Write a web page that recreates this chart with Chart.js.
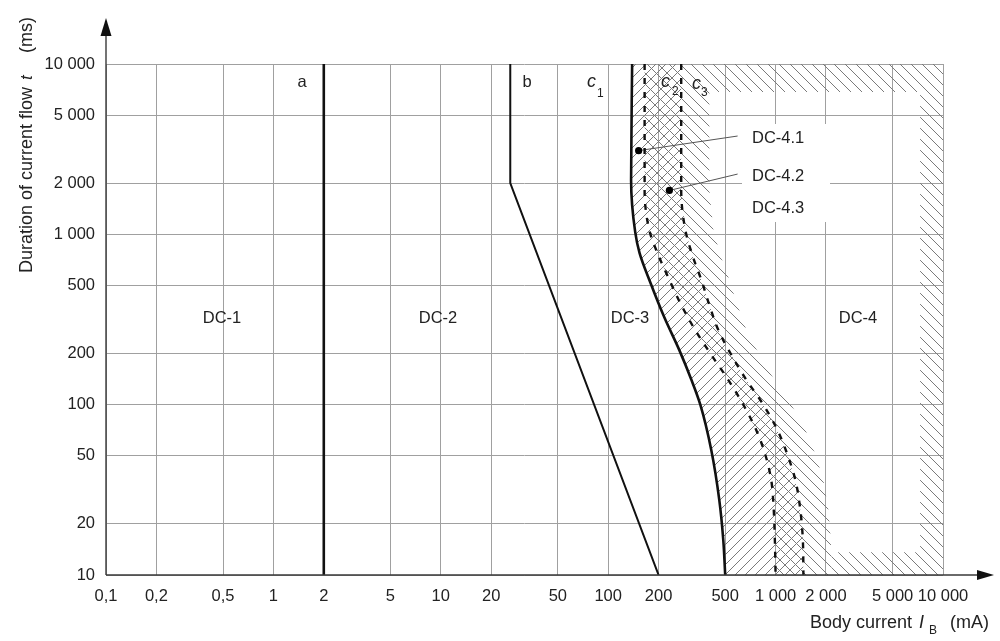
<!DOCTYPE html>
<html><head><meta charset="utf-8">
<script src="https://cdn.jsdelivr.net/npm/chart.js@4.4.1/dist/chart.umd.min.js"></script>
<style>html,body{margin:0;padding:0;background:#fff;}canvas{display:block;}</style>
</head><body>
<canvas id="c" width="1000" height="641"></canvas>
<script>
// ---------------- data ----------------
const xTickValues = [0.1,0.2,0.5,1,2,5,10,20,50,100,200,500,1000,2000,5000,10000];
const xTickLabels = ['0,1','0,2','0,5','1','2','5','10','20','50','100','200','500','1 000','2 000','5 000','10 000'];
const yTickValues = [10,20,50,100,200,500,1000,2000,5000,10000];
const yTickLabels = ['10','20','50','100','200','500','1 000','2 000','5 000','10 000'];

// curve a (mA / ms)
const curveA_mA = [2, 2];
const curveA_ms = [10000, 10];
// curve b
const curveB_mA = [26, 26, 200];
const curveB_ms = [10000, 2000, 10];
// curve c1
const curveC1_mA = [139,137,145,154,179,216,266,314,355,413,461,487,500];
const curveC1_ms = [10000,2080,1030,776,518,327,209,140,100,54,27.5,16,10];
// curve c2 (dashed)
const curveC2_mA = [165,165,176,199,232,273,331,413,521,641,766,867,942,975,990,1000];
const curveC2_ms = [10000,1820,1060,757,540,385,274,196,140,100,71,51,36,24,16,10];
// curve c3 (dashed)
const curveC3_mA = [273,273,289,318,360,402,455,544,668,845,1025,1176,1313,1406,1455,1466];
const curveC3_ms = [10000,1820,1060,757,540,385,274,196,140,100,71,51,36,24,16,10];
// outer edge of the "\" hatched band beyond c3
const hatchEdge_mA = [402,402,425,467,529,591,669,800,982,1242,1507,1729,1930,2067,2139,2155];
const hatchEdge_ms = [10000,1820,1060,757,540,385,274,196,140,100,71,51,36,24,16,10];
// hatched frame of zone DC-4 (top, right, bottom bands)
const frame_mA = [402,10000,10000,2155,2155,7300,7300,402];
const frame_ms = [10000,10000,10,10,13.6,13.6,6850,6850];
// marked points DC-4.1 / DC-4.2
const dots_mA = [152, 232];
const dots_ms = [3100, 1810];
// leader lines (label end -> point)
const leader1_mA = [593, 152];
const leader1_ms = [3777, 3100];
const leader2_mA = [593, 232];
const leader2_ms = [2259, 1810];

// ---------------- helpers ----------------
const pts = (xs, ys) => xs.map((x, i) => ({x: x, y: ys[i]}));
const rev = a => a.slice().reverse();
const FONT = '"Liberation Sans", Arial, Helvetica, sans-serif';
const canvas = document.getElementById('c');
const mainCtx = canvas.getContext('2d');

function makeHatch(dir, s, color, w) {
  const t = document.createElement('canvas');
  t.width = s; t.height = s;
  const g = t.getContext('2d');
  g.strokeStyle = color; g.lineWidth = w;
  g.beginPath();
  for (let k = -s; k <= s; k += s) {
    if (dir === 'back') { g.moveTo(0, k); g.lineTo(s, k + s); }
    else { g.moveTo(0, s + k); g.lineTo(s, k); }
  }
  g.stroke();
  return mainCtx.createPattern(t, 'repeat');
}
const hatchBack = makeHatch('back', 11, '#7a7a7a', 1);
const hatchFwd = makeHatch('fwd', 10, '#7a7a7a', 1);

const lineDs = (data, opts) => Object.assign({
  data: data, borderColor: '#111', borderWidth: 2.5, pointRadius: 0, fill: false, tension: 0, order: 1
}, opts);
const curveDs = (data, opts) => lineDs(data, Object.assign({
  indexAxis: 'y', cubicInterpolationMode: 'monotone'
}, opts));
const shapeDs = (data, pattern) => ({
  data: data, borderWidth: 0, borderColor: 'rgba(0,0,0,0)', backgroundColor: pattern,
  pointRadius: 0, fill: 'shape', tension: 0, order: 10
});

const datasets = [
  lineDs(pts(curveA_mA, curveA_ms), {borderWidth: 2.6}),
  lineDs(pts(curveB_mA, curveB_ms), {borderWidth: 2}),
  curveDs(pts(curveC1_mA, curveC1_ms), {borderWidth: 2.6}),
  curveDs(pts(curveC2_mA, curveC2_ms), {borderWidth: 2.4, borderDash: [6, 8]}),
  curveDs(pts(curveC3_mA, curveC3_ms), {borderWidth: 2.4, borderDash: [6, 8]}),
  lineDs(pts(leader1_mA, leader1_ms), {borderWidth: 1, borderColor: '#555'}),
  lineDs(pts(leader2_mA, leader2_ms), {borderWidth: 1, borderColor: '#555'}),
  {type: 'scatter', data: pts(dots_mA, dots_ms), pointRadius: 3.6, pointBackgroundColor: '#000',
   pointBorderWidth: 0, showLine: false, order: 0},
  shapeDs(pts(curveC1_mA, curveC1_ms).concat(rev(pts(curveC3_mA, curveC3_ms))), hatchFwd),
  shapeDs(pts(curveC2_mA, curveC2_ms).concat(rev(pts(hatchEdge_mA, hatchEdge_ms))), hatchBack),
  shapeDs(pts(frame_mA, frame_ms), hatchBack)
];

function txt(ctx, s, x, y, font, align) {
  ctx.font = font; ctx.textAlign = align || 'left'; ctx.fillText(s, x, y);
}

const overlay = {
  id: 'overlay',
  beforeDatasetsDraw(chart) {
    const ctx = chart.ctx;
    ctx.save(); ctx.fillStyle = '#fff';
    ctx.fillRect(742, 124, 88, 98);
    ctx.restore();
  },
  afterDraw(chart) {
    const ctx = chart.ctx;
    const a = chart.chartArea;
    ctx.save();
    // axes with arrows
    ctx.strokeStyle = '#3a3a3a'; ctx.lineWidth = 1.4; ctx.fillStyle = '#111';
    ctx.beginPath();
    ctx.moveTo(a.left, a.bottom); ctx.lineTo(a.left, 30);
    ctx.moveTo(a.left, a.bottom); ctx.lineTo(982, a.bottom);
    ctx.stroke();
    ctx.beginPath();
    ctx.moveTo(a.left, 18); ctx.lineTo(a.left - 5.5, 36); ctx.lineTo(a.left + 5.5, 36); ctx.closePath(); ctx.fill();
    ctx.beginPath();
    ctx.moveTo(994, a.bottom); ctx.lineTo(977, a.bottom - 5); ctx.lineTo(977, a.bottom + 5); ctx.closePath(); ctx.fill();

    ctx.fillStyle = '#222'; ctx.textBaseline = 'alphabetic';
    const f = '16.5px ' + FONT;
    const fi = 'italic 18px ' + FONT;
    const fs = '12px ' + FONT;
    // curve labels
    txt(ctx, 'a', 302, 87, f, 'center');
    txt(ctx, 'b', 527, 87, f, 'center');
    txt(ctx, 'c', 587, 87, fi); txt(ctx, '1', 597, 97, fs);
    txt(ctx, 'c', 661, 87, fi); txt(ctx, '2', 672, 95, fs);
    txt(ctx, 'c', 692, 89, fi); txt(ctx, '3', 701, 96, fs);
    // zones
    txt(ctx, 'DC-1', 222, 323, f, 'center');
    txt(ctx, 'DC-2', 438, 323, f, 'center');
    txt(ctx, 'DC-3', 630, 323, f, 'center');
    txt(ctx, 'DC-4', 858, 323, f, 'center');
    txt(ctx, 'DC-4.1', 752, 143, f);
    txt(ctx, 'DC-4.2', 752, 181, f);
    txt(ctx, 'DC-4.3', 752, 213, f);

    // x axis title
    const ft = '18px ' + FONT;
    txt(ctx, 'Body current', 810, 628, ft);
    txt(ctx, 'I', 919, 628, 'italic 18px ' + FONT);
    txt(ctx, 'B', 929, 634, fs);
    txt(ctx, '(mA)', 950, 628, ft);

    // y axis title (rotated)
    ctx.translate(32, 273);
    ctx.rotate(-Math.PI / 2);
    ctx.font = ft; ctx.textAlign = 'left';
    const s1 = 'Duration of current flow';
    ctx.fillText(s1, 0, 0);
    const w1 = ctx.measureText(s1).width;
    ctx.font = 'italic 17px ' + FONT;
    ctx.fillText('t', w1 + 7, 0);
    ctx.font = ft;
    ctx.fillText('(ms)', 220, 0);
    ctx.restore();
  }
};

new Chart(canvas, {
  type: 'line',
  data: {datasets: datasets},
  options: {
    responsive: false, animation: false, events: [],
    layout: {padding: {top: 64, right: 57, bottom: 0, left: 0}},
    plugins: {legend: {display: false}, tooltip: {enabled: false}},
    scales: {
      x: {
        type: 'logarithmic', min: 0.1, max: 10000,
        afterBuildTicks: s => { s.ticks = xTickValues.map(v => ({value: v})); },
        afterFit: s => { s.height = 66; },
        ticks: {autoSkip: false, maxRotation: 0, minRotation: 0, padding: 12, color: '#222',
                font: {family: FONT, size: 16.5}, callback: (v, i) => xTickLabels[i]},
        grid: {color: '#a0a0a0', lineWidth: 1, drawTicks: false},
        border: {display: false}
      },
      y: {
        type: 'logarithmic', min: 10, max: 10000,
        afterBuildTicks: s => { s.ticks = yTickValues.map(v => ({value: v})); },
        afterFit: s => { s.width = 106; },
        ticks: {autoSkip: false, padding: 11, color: '#222',
                font: {family: FONT, size: 16.5}, callback: (v, i) => yTickLabels[i]},
        grid: {color: '#a0a0a0', lineWidth: 1, drawTicks: false},
        border: {display: false}
      }
    }
  },
  plugins: [overlay]
});
</script>
</body></html>
